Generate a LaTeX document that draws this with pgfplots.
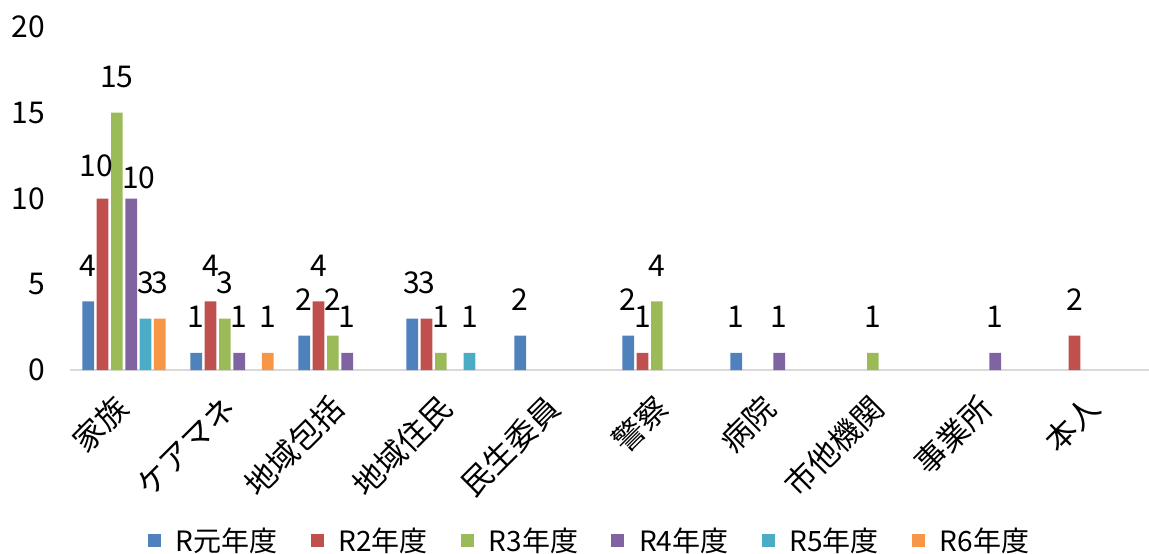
\documentclass[border=0pt]{standalone}
\usepackage{pgfplots}
\pgfplotsset{compat=1.18}
\usepackage{fontspec}
\setmainfont{Noto Sans CJK JP}
\definecolor{c1}{HTML}{4F81BD}
\definecolor{c2}{HTML}{C0504D}
\definecolor{c3}{HTML}{9BBB59}
\definecolor{c4}{HTML}{8064A2}
\definecolor{c5}{HTML}{4BACC6}
\definecolor{c6}{HTML}{F79646}
\newcommand\f{\fontsize{28pt}{34pt}\selectfont}
\newcommand\fn{\fontsize{30pt}{36pt}\selectfont}
\newcommand\fc{\fontsize{31pt}{37pt}\selectfont}
\pgfplotsset{sqlegend/.style={legend image code/.code={\fill[##1] (0pt,-6.5pt) rectangle (13pt,6.5pt);}}}
\pgfplotstableread{
x y dx dy
0 10 -6.5 -2.5
1 4 0 0
2 4 0 0
3 3 0 0
5 1 0 0
9 2 0 0
}\rtwo
\pgfplotstableread{
x y dx dy
0 10 7.5 -15.5
1 1 0 0
2 1 0 0
6 1 0 0
8 1 0 0
}\rfour
\begin{document}
\begin{tikzpicture}[x=1pt,y=1pt]
\path[use as bounding box] (-70,-184) rectangle (1079,370);
\begin{axis}[
  at={(0,0)}, anchor=south west, scale only axis,
  width=1080pt, height=343pt,
  xmin=-0.5, xmax=9.5, ymin=0, ymax=20,
  enlargelimits=false, clip=false,
  ybar=2.6pt, bar width=11.7pt,
  xtick={0,...,9},
  xticklabels={家族,ケアマネ,地域包括,地域住民,民生委員,警察,病院,市他機関,事業所,本人},
  ytick={0,5,10,15,20},
  major tick length=0pt,
  /pgf/number format/assume math mode=true,
  axis lines*=left,
  x axis line style={-, draw=black!15, line width=2pt},
  y axis line style={draw=none},
  yticklabel style={font=\fn, xshift=-25pt, inner sep=0pt, anchor=east},
  xticklabel style={font=\fc, anchor=east, inner sep=0pt, yshift=-32pt, xshift=-2pt, rotate=45},
  nodes near coords,
  every node near coord/.append style={font=\fn, anchor=base, yshift=25pt, inner sep=0pt, text=black},
  legend style={at={(0.481,-0.496)}, anchor=center, draw=none, fill=none,
    legend columns=6, font=\f,
    /tikz/every odd column/.append style={column sep=13pt},
    /tikz/every even column/.append style={column sep=31pt}},
]
\addplot[fill=c1, draw=none, sqlegend] coordinates {(0,4) (1,1) (2,2) (3,3) (4,2) (5,2) (6,1)};
\addplot[fill=c2, draw=none, sqlegend,
  visualization depends on={\thisrow{dx} \as \dx},
  visualization depends on={\thisrow{dy} \as \dy},
  every node near coord/.append style={xshift=\dx pt, yshift=\dy pt}] table[x=x,y=y] {\rtwo};
\addplot[fill=c3, draw=none, sqlegend] coordinates {(0,15) (1,3) (2,2) (3,1) (5,4) (7,1)};
\addplot[fill=c4, draw=none, sqlegend,
  visualization depends on={\thisrow{dx} \as \dx},
  visualization depends on={\thisrow{dy} \as \dy},
  every node near coord/.append style={xshift=\dx pt, yshift=\dy pt}] table[x=x,y=y] {\rfour};
\addplot[fill=c5, draw=none, sqlegend] coordinates {(0,3) (3,1)};
\addplot[fill=c6, draw=none, sqlegend] coordinates {(0,3) (1,1)};
\legend{R元年度,R2年度,R3年度,R4年度,R5年度,R6年度}
\end{axis}
\end{tikzpicture}
\end{document}
